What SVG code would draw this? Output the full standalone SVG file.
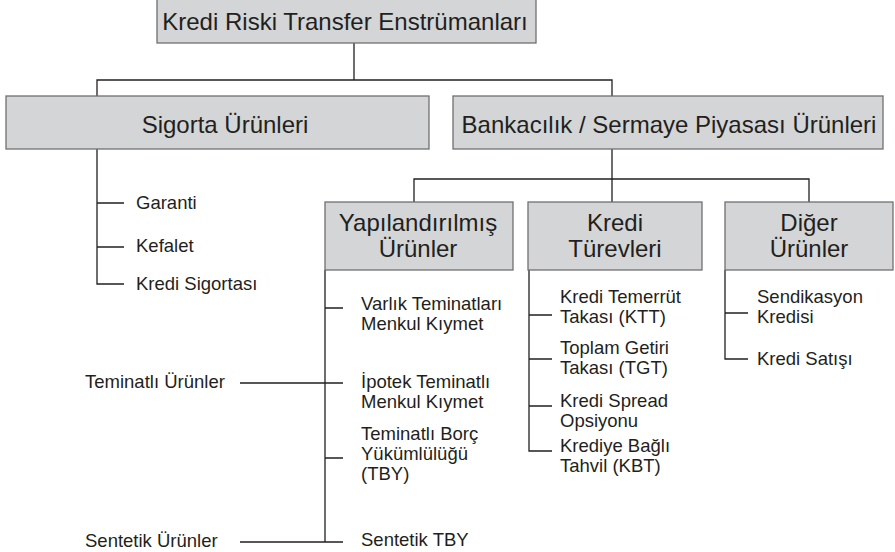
<svg xmlns="http://www.w3.org/2000/svg" width="895" height="552" viewBox="0 0 895 552">
<style>
.box{fill:#d4d5d6;stroke:#707070;stroke-width:1.3}
.bt{font-family:"Liberation Sans",Arial,sans-serif;font-size:24px;fill:#231f20;text-anchor:middle}
.lt{font-family:"Liberation Sans",Arial,sans-serif;font-size:18.5px;fill:#231f20}
.ln{fill:none;stroke:#231f20;stroke-width:1.3}
</style>
<rect width="895" height="552" fill="#ffffff"/>
<g id="connectors" class="ln">
<path d="M354,43 V80 M97,96 V80 H612 V96"/>
<path d="M97,149 V284 H124 M97,203 H124 M97,247 H124"/>
<path d="M612,149 V202 M414,202 V179 H809 V202"/>
<path d="M325,270 V542 M325,308 H343 M240,383 H343 M325,458 H343 M240,542 H343"/>
<path d="M529,270 V451 H552 M529,315 H552 M529,359 H552 M529,406 H552"/>
<path d="M725,270 V359 H748 M725,313 H748"/>
</g>
<g id="root">
<rect class="box" x="157" y="-1" width="379" height="44"/>
<text class="bt" x="345" y="30">Kredi Riski Transfer Enstrümanları</text>
</g>
<g id="sigorta">
<rect class="box" x="6" y="96" width="423" height="53"/>
<text class="bt" x="225" y="133">Sigorta Ürünleri</text>
</g>
<g id="bankacilik">
<rect class="box" x="453" y="96" width="430" height="53"/>
<text class="bt" x="669" y="133">Bankacılık / Sermaye Piyasası Ürünleri</text>
</g>
<g id="yapilandirilmis">
<rect class="box" x="325" y="202" width="188" height="68"/>
<text class="bt" x="418" y="231">Yapılandırılmış</text>
<text class="bt" x="418" y="257">Ürünler</text>
</g>
<g id="kredi-turevleri">
<rect class="box" x="528" y="202" width="174" height="68"/>
<text class="bt" x="615" y="231">Kredi</text>
<text class="bt" x="615" y="257">Türevleri</text>
</g>
<g id="diger">
<rect class="box" x="725" y="202" width="168" height="68"/>
<text class="bt" x="809" y="231">Diğer</text>
<text class="bt" x="809" y="257">Ürünler</text>
</g>
<g id="garanti"><text class="lt" x="136" y="209">Garanti</text></g>
<g id="kefalet"><text class="lt" x="136" y="252">Kefalet</text></g>
<g id="kredi-sigortasi"><text class="lt" x="136" y="290">Kredi Sigortası</text></g>
<g id="varlik"><text class="lt" x="361" y="310">Varlık Teminatları</text><text class="lt" x="361" y="330">Menkul Kıymet</text></g>
<g id="ipotek"><text class="lt" x="361" y="388">İpotek Teminatlı</text><text class="lt" x="361" y="408">Menkul Kıymet</text></g>
<g id="tby"><text class="lt" x="361" y="440">Teminatlı Borç</text><text class="lt" x="361" y="460">Yükümlülüğü</text><text class="lt" x="361" y="480">(TBY)</text></g>
<g id="sentetik-tby"><text class="lt" x="361" y="546">Sentetik TBY</text></g>
<g id="teminatli-urunler"><text class="lt" x="85" y="388">Teminatlı Ürünler</text></g>
<g id="sentetik-urunler"><text class="lt" x="85" y="547">Sentetik Ürünler</text></g>
<g id="ktt"><text class="lt" x="560" y="303">Kredi Temerrüt</text><text class="lt" x="560" y="323">Takası (KTT)</text></g>
<g id="tgt"><text class="lt" x="560" y="354">Toplam Getiri</text><text class="lt" x="560" y="374">Takası (TGT)</text></g>
<g id="spread"><text class="lt" x="560" y="407">Kredi Spread</text><text class="lt" x="560" y="427">Opsiyonu</text></g>
<g id="kbt"><text class="lt" x="560" y="452">Krediye Bağlı</text><text class="lt" x="560" y="472">Tahvil (KBT)</text></g>
<g id="sendikasyon"><text class="lt" x="757" y="303">Sendikasyon</text><text class="lt" x="757" y="323">Kredisi</text></g>
<g id="kredi-satisi"><text class="lt" x="757" y="365">Kredi Satışı</text></g>
</svg>
